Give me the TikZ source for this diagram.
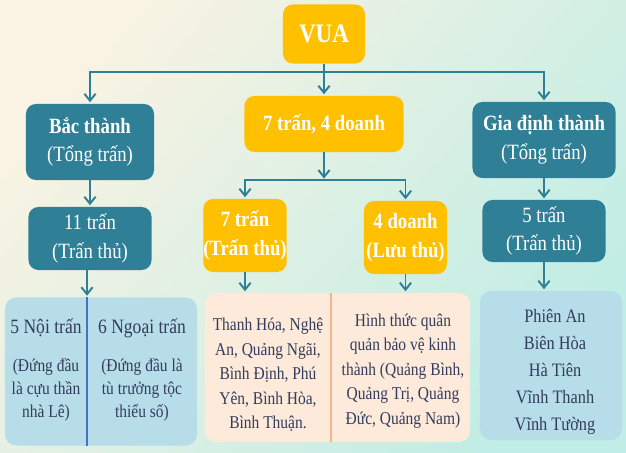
\documentclass[tikz,border=0pt]{standalone}
\usepackage{fontspec}
\setmainfont[FakeStretch=0.86]{Liberation Serif}
\usetikzlibrary{positioning,arrows.meta,calc}

\definecolor{tealbox}{RGB}{47,127,151}
\definecolor{goldbox}{RGB}{255,192,0}
\definecolor{skybox}{RGB}{183,222,232}
\definecolor{peachbox}{RGB}{253,234,218}
\definecolor{cream}{RGB}{248,243,227}
\definecolor{mint}{RGB}{192,237,229}
\definecolor{inktext}{RGB}{50,60,92}
\definecolor{divblue}{RGB}{68,114,196}
\definecolor{divpeach}{RGB}{244,180,140}

\newcommand{\titlefont}{\fontsize{19}{22}\selectfont\bfseries}
\newcommand{\boxfont}{\fontsize{15.5}{20.5}\selectfont}
\newcommand{\headfont}{\fontsize{14.5}{17}\selectfont}
\newcommand{\bodyfont}{\fontsize{12.8}{16.2}\selectfont}
\newcommand{\listfont}{\fontsize{12.8}{17.4}\selectfont}
\newcommand{\placefont}{\fontsize{13.5}{19.2}\selectfont}

\tikzset{
  box/.style={rounded corners=7pt, align=center, inner sep=0pt, text=white, font=\boxfont},
  tealnode/.style={box, fill=tealbox},
  goldnode/.style={box, fill=goldbox},
  listbox/.style={rounded corners=8pt, inner sep=0pt},
  flow/.style={draw=tealbox, line width=1.4pt, shorten >=1pt,
    -{Straight Barb[length=5pt,width=8pt,line width=1.4pt]}},
  txt/.style={text=inktext, align=center, inner sep=0pt},
}

\begin{document}
\begin{tikzpicture}[x=0.025cm, y=0.025cm]
\shade[top color=cream, bottom color=mint, shading angle=50] (0,0) rectangle (626,453);
\useasboundingbox (0,0) rectangle (626,453);

% top levels
\node[goldnode, minimum width=2.05cm, minimum height=1.475cm, font=\titlefont] (vua) at (324,419) {VUA};
\node[tealnode, minimum width=3.2cm, minimum height=1.9cm] (bac) at (90,311) {\textbf{Bắc thành}\\(Tổng trấn)};
\node[goldnode, minimum width=3.975cm, minimum height=1.4cm, font=\boxfont\bfseries] (mid) at (324,329) {7 trấn, 4 doanh};
\node[tealnode, minimum width=3.575cm, minimum height=1.9cm] (gia) at (544,313) {\textbf{Gia định thành}\\(Tổng trấn)};

% second level
\node[tealnode, minimum width=3.075cm, minimum height=1.575cm] (tran11) at (90,214.5) {11 trấn\\(Trấn thủ)};
\node[goldnode, minimum width=2.05cm, minimum height=1.825cm, font=\boxfont\bfseries] (tran7) at (245,217.5) {7 trấn\\(Trấn thủ)};
\node[goldnode, minimum width=2.075cm, minimum height=1.825cm, font=\boxfont\bfseries] (doanh4) at (405.5,215.5) {4 doanh\\(Lưu thủ)};
\node[tealnode, minimum width=3.075cm, minimum height=1.55cm] (tran5) at (544,222) {5 trấn\\(Trấn thủ)};

% lists
\node[listbox, fill=skybox, minimum width=4.8cm, minimum height=3.7cm] (left) at (101,81.5) {};
\node[listbox, fill=peachbox, minimum width=6.625cm, minimum height=3.725cm] (centre) at (337.5,85.5) {};
\node[listbox, fill=skybox, minimum width=3.55cm, minimum height=3.725cm] (right) at (551,87.5) {};

\coordinate (cutL) at (87,0);
\coordinate (cutC) at (331,0);
\draw[divblue, line width=1.4pt] (left.north -| cutL) -- (left.south -| cutL);
\draw[divpeach, line width=1pt] (centre.north -| cutC) -- (centre.south -| cutC);

\node[txt, font=\headfont] (noi) at (46,125) {5 Nội trấn};
\node[txt, font=\headfont] (ngoai) at (142,125) {6 Ngoại trấn};
\node[txt, font=\bodyfont] (noibody) at (46,63) {(Đứng đầu\\là cựu thần\\nhà Lê)};
\node[txt, font=\bodyfont] (ngoaibody) at (142,63) {(Đứng đầu là\\tù trưởng tộc\\thiểu số)};
\node[txt, font=\listfont] (tranlist) at (268,78) {Thanh Hóa, Nghệ\\An, Quảng Ngãi,\\Bình Định, Phú\\Yên, Bình Hòa,\\Bình Thuận.};
\node[txt, font=\listfont] (doanhlist) at (403,82) {Hình thức quân\\quản bảo vệ kinh\\thành (Quảng Bình,\\Quảng Trị, Quảng\\Đức, Quảng Nam)};
\node[txt, font=\placefont] (giallist) at (555,81) {Phiên An\\Biên Hòa\\Hà Tiên\\Vĩnh Thanh\\Vĩnh Tường};

% connectors
\coordinate (hub) at (324,381);
\coordinate (hub2) at (324,273);
\draw[flow] (vua.south) -- (mid.north);
\draw[flow] (hub) -| (bac.north);
\draw[flow] (hub) -| (gia.north);
\draw[flow] (mid.south) -- (hub2);
\draw[flow] (hub2) -| (tran7.north);
\draw[flow] (hub2) -| (doanh4.north);
\draw[flow] (bac.south) -- (tran11.north);
\draw[flow] (gia.south) -- (tran5.north);
\draw[flow] (tran11.south -| cutL) -- (left.north -| cutL);
\draw[flow] (tran7.south) -- (tran7.south |- centre.north);
\draw[flow] (doanh4.south) -- (doanh4.south |- centre.north);
\draw[flow] (tran5.south) -- (tran5.south |- right.north);
\end{tikzpicture}
\end{document}
